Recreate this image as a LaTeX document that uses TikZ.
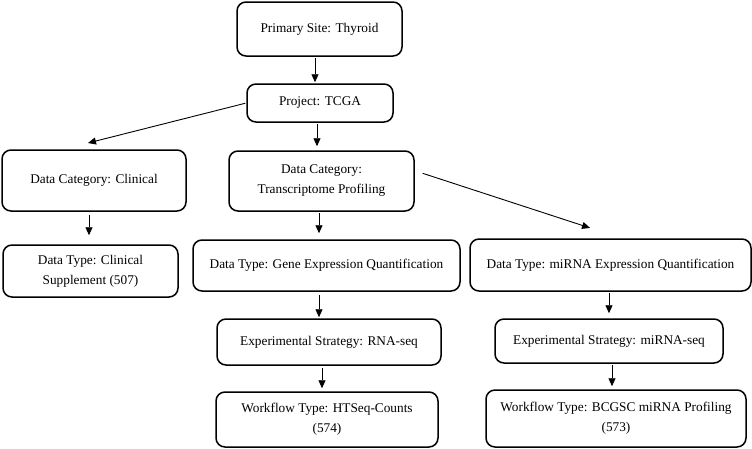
\documentclass[tikz,border=0pt]{standalone}
\usepackage{fontspec}
\setmainfont{Liberation Serif}
\usetikzlibrary{arrows.meta}
\begin{document}
\begin{tikzpicture}[x=1pt,y=-1pt,
  box/.style={draw, line width=1.5pt, rounded corners=9pt, align=center, inner sep=0pt,
    font=\fontsize{13.3}{20}\selectfont},
  arr/.style={draw, line width=0.9pt, -{Triangle[length=8pt,width=7pt]}, shorten >=1pt, shorten <=1pt}]
\useasboundingbox (0,0) rectangle (752,448);
\node[box, minimum width=165pt, minimum height=54pt] (prim) at (319.5,29) {Primary Site: Thyroid};
\node[box, minimum width=146pt, minimum height=38pt] (proj) at (320,103) {Project: TCGA};
\node[box, minimum width=184pt, minimum height=61pt] (clin) at (94,180.5) {Data Category: Clinical};
\node[box, minimum width=185pt, minimum height=60pt] (trans) at (321.5,181) {Data Category:\\Transcriptome Profiling};
\node[box, minimum width=175pt, minimum height=52pt] (supp) at (90.5,271) {Data Type: Clinical\\Supplement (507)};
\node[box, minimum width=267pt, minimum height=51pt] (gene) at (326.5,265.5) {Data Type: Gene Expression Quantification};
\node[box, minimum width=281pt, minimum height=52pt] (mirna) at (610.5,265) {Data Type: miRNA Expression Quantification};
\node[box, minimum width=224pt, minimum height=46pt] (rna) at (329,342) {Experimental Strategy: RNA-seq};
\node[box, minimum width=228pt, minimum height=44pt] (mirseq) at (609,341) {Experimental Strategy: miRNA-seq};
\node[box, minimum width=222pt, minimum height=55pt] (htseq) at (327,419.5) {Workflow Type: HTSeq-Counts\\(574)};
\node[box, minimum width=260pt, minimum height=57pt] (bcgsc) at (616,418.5) {Workflow Type: BCGSC miRNA Profiling\\(573)};

\draw[arr] (prim.south -| 315,0) -- (proj.north -| 315,0);
\draw[arr] (proj.south -| 317,0) -- ([yshift=3pt]trans.north -| 317,0);
\draw[arr] (proj.west) -- ([xshift=-7pt,yshift=6pt]clin.north);
\draw[arr] ([xshift=7pt,yshift=8pt]trans.east) -- ([xshift=-19.5pt,yshift=10pt]mirna.north);
\draw[arr] ([yshift=-2pt]clin.south -| 89,0) -- ([yshift=8pt]supp.north -| 89,0);
\draw[arr] (trans.south -| 319,0) -- ([yshift=5pt]gene.north -| 319,0);
\draw[arr] ([yshift=-2pt]gene.south -| 319,0) -- (rna.north -| 319,0);
\draw[arr] ([yshift=-1pt]rna.south -| 322,0) -- ([yshift=2pt]htseq.north -| 322,0);
\draw[arr] (mirna.south -| 609,0) -- ([yshift=4pt]mirseq.north -| 609,0);
\draw[arr] (mirseq.south -| 612,0) -- ([yshift=2pt]bcgsc.north -| 612,0);
\end{tikzpicture}
\end{document}
